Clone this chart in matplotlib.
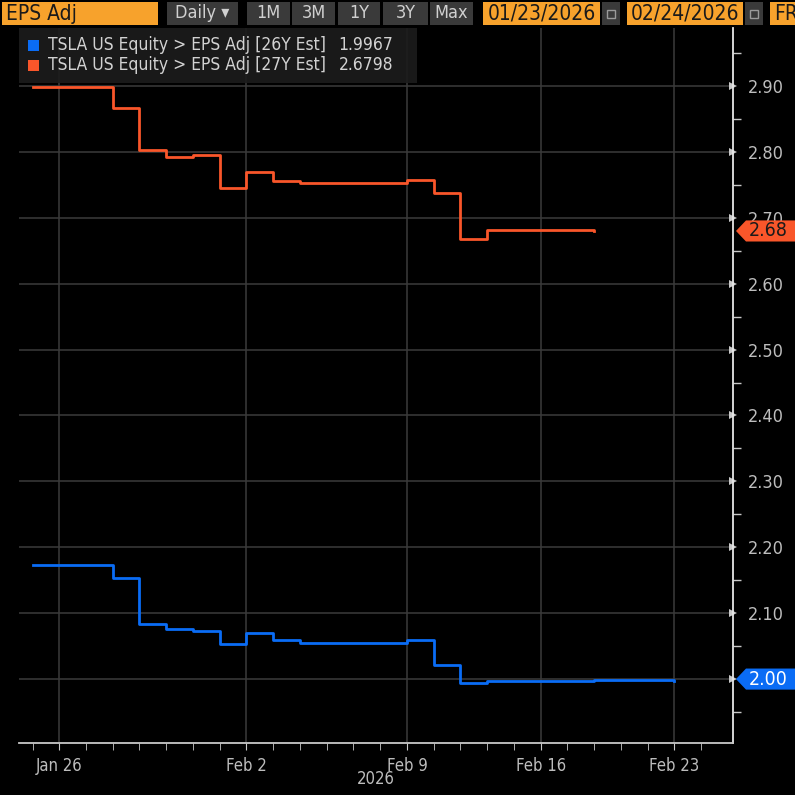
import matplotlib
matplotlib.use("Agg")
import matplotlib.pyplot as plt
from matplotlib.patches import Rectangle, Polygon
from matplotlib.transforms import blended_transform_factory

idx_26 = list(range(25))
eps_26 = [2.173, 2.173, 2.173, 2.154, 2.084, 2.076, 2.073, 2.053, 2.070, 2.059,
          2.055, 2.055, 2.055, 2.055, 2.059, 2.021, 1.994, 1.9965, 1.9965, 1.9965,
          1.9965, 1.998, 1.998, 1.998, 1.9967]
idx_27 = list(range(22))
eps_27 = [2.899, 2.899, 2.899, 2.866, 2.803, 2.792, 2.795, 2.745, 2.769, 2.756,
          2.753, 2.753, 2.753, 2.753, 2.757, 2.737, 2.668, 2.681, 2.681, 2.681,
          2.681, 2.6798]

date_pos = [1, 8, 14, 19, 24]
date_labels = ["Jan 26", "Feb 2", "Feb 9", "Feb 16", "Feb 23"]
y_ticks = [2.00, 2.10, 2.20, 2.30, 2.40, 2.50, 2.60, 2.70, 2.80, 2.90]

series_names = ["TSLA US Equity > EPS Adj [26Y Est]", "TSLA US Equity > EPS Adj [27Y Est]"]
last_values = ["1.9967", "2.6798"]
tag_values = [2.00, 2.68]

BLUE = "#0a6cf5"
ORANGE = "#f9562a"
TOOL_ORANGE = "#f7a22c"
plt.rcParams["font.family"] = ["DejaVu Sans"]
plt.rcParams["font.stretch"] = "condensed"

W = H = 795
fig = plt.figure(figsize=(7.95, 7.95), dpi=100, facecolor="black")


def fx(px):
    return px / W


def fy(py):
    return 1 - py / H


ax = fig.add_axes([fx(19), fy(743), fx(733) - fx(19), fy(28) - fy(743)])
ax.set_facecolor("black")

ax.step(idx_26, eps_26, where="post", color=BLUE, lw=2.0, zorder=3)
ax.step(idx_27, eps_27, where="post", color=ORANGE, lw=2.0, zorder=3)

ax.set_xlim(-0.505, 26.19)
ax.set_ylim(1.903, 2.988)

# x axis
ax.set_xticks(date_pos)
ax.set_xticklabels(date_labels)
ax.set_xticks(range(26), minor=True)
ax.tick_params(axis="x", which="both", direction="out", length=5, color="#c8c8c8",
               labelcolor="#bdbdbd", labelsize=12, pad=5)

# y axis on the right
ax.yaxis.tick_right()
ax.set_yticks(y_ticks)
ax.set_yticklabels([f"{v:.2f}" for v in y_ticks])
ax.set_yticks([v + 0.05 for v in y_ticks] + [1.95], minor=True)
ax.tick_params(axis="y", which="major", direction="out", length=0, pad=11,
               labelcolor="#bdbdbd", labelsize=13)
ax.tick_params(axis="y", which="minor", direction="out", length=6, width=1, color="#c8c8c8")
for tick in ax.yaxis.get_major_ticks():
    tick.tick2line.set_marker(">")
    tick.tick2line.set_markersize(6)
    tick.tick2line.set_markeredgewidth(0)
    tick.tick2line.set_markerfacecolor("#c8c8c8")

ax.grid(True, which="major", color="#3b3b3b", lw=1.1)
for side in ["top", "left"]:
    ax.spines[side].set_visible(False)
ax.spines["bottom"].set_color("#c8c8c8")
ax.spines["right"].set_color("#e6e6e6")
ax.spines["bottom"].set_linewidth(1.3)
ax.spines["right"].set_linewidth(1.3)

ax.text(0.5, -0.05, "2026", transform=ax.transAxes, ha="center", va="center",
        color="#bdbdbd", fontsize=12)

# value tags on the right axis
tr = blended_transform_factory(ax.transAxes, ax.transData)
for val, col, tcol in zip(tag_values, [BLUE, ORANGE], ["white", "#1a1a1a"]):
    x0 = 1 + 3 / 714
    x1 = 1 + 13 / 714
    x2 = 1 + 62 / 714
    h = 0.016
    poly = Polygon([(x0, val), (x1, val + h), (x2, val + h), (x2, val - h), (x1, val - h)],
                   closed=True, transform=tr, facecolor=col, edgecolor="none",
                   clip_on=False, zorder=5)
    ax.add_patch(poly)
    ax.text(1 + 16 / 714, val, f"{val:.2f}", transform=tr, ha="left", va="center",
            color=tcol, fontsize=14, clip_on=False, zorder=6)

# legend box
fig.patches.append(Rectangle((fx(19), fy(83)), fx(417) - fx(19), fy(28) - fy(83),
                             transform=fig.transFigure, facecolor="#1c1c1c",
                             edgecolor="none", alpha=0.92, zorder=4))
for i, (name, last, col) in enumerate(zip(series_names, last_values, [BLUE, ORANGE])):
    yc = 45 + i * 20
    fig.patches.append(Rectangle((fx(28), fy(yc + 6)), fx(11), fx(11),
                                 transform=fig.transFigure, facecolor=col,
                                 edgecolor="none", zorder=5))
    fig.text(fx(48), fy(yc), name, ha="left", va="center", color="#d2d2d2",
             fontsize=12.5, zorder=6)
    fig.text(fx(393), fy(yc), last, ha="right", va="center", color="#d2d2d2",
             fontsize=12.5, zorder=6)


# toolbar
def tool_box(x0, x1, face, label=None, tcolor="#d0d0d0", ha="center", size=13):
    fig.patches.append(Rectangle((fx(x0), fy(25)), fx(x1 - x0), fx(23),
                                 transform=fig.transFigure, facecolor=face,
                                 edgecolor="none", zorder=5))
    if label:
        tx = fx(x0 + 4) if ha == "left" else fx((x0 + x1) / 2)
        fig.text(tx, fy(13.5), label, ha=ha, va="center", color=tcolor,
                 fontsize=size, zorder=6)


def cal_box(x0):
    tool_box(x0, x0 + 18, "#3a3a3a")
    fig.patches.append(Rectangle((fx(x0 + 5), fy(18)), fx(8), fx(8),
                                 transform=fig.transFigure, facecolor="none",
                                 edgecolor="#9a9a9a", lw=1, zorder=6))


tool_box(2, 158, TOOL_ORANGE, "EPS Adj", "#1a1a1a", ha="left", size=15)
tool_box(167, 238, "#3a3a3a", "Daily \u25be")
for x0, x1, lab in [(247, 290, "1M"), (292, 335, "3M"), (338, 380, "1Y"),
                    (383, 428, "3Y"), (430, 473, "Max")]:
    tool_box(x0, x1, "#3a3a3a", lab)
tool_box(483, 600, TOOL_ORANGE, "01/23/2026", "#1a1a1a", size=15)
cal_box(602)
tool_box(627, 743, TOOL_ORANGE, "02/24/2026", "#1a1a1a", size=15)
cal_box(745)
tool_box(770, 800, TOOL_ORANGE, "FR", "#1a1a1a", ha="left", size=15)

fig.savefig("out.png", dpi=100, facecolor="black")
